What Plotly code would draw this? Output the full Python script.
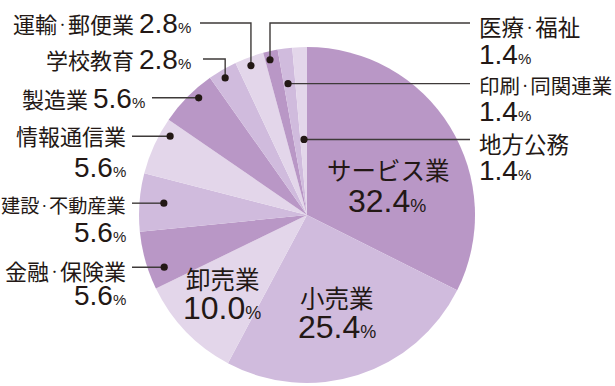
import math
import plotly.graph_objects as go

# ---------------- data ----------------
categories = ["サービス業", "小売業", "卸売業", "金融・保険業", "建設・不動産業",
              "情報通信業", "製造業", "学校教育", "運輸・郵便業", "医療・福祉",
              "印刷・同関連業", "地方公務"]
values = [32.4, 25.4, 10.0, 5.6, 5.6, 5.6, 5.6, 2.8, 2.8, 1.4, 1.4, 1.4]

# ---------------- layout / style ----------------
W, H = 615, 386
CX, CY, R = 307, 215, 168
SHADES = ["#b997c6", "#d0bbdd", "#e3d6ea"]
TEXT = "#231815"
LINE = "#3e3a39"
JP = "Noto Sans CJK JP"
NUM = "Liberation Sans"

def px(x):
    return x / W

def py(y):
    return 1 - y / H

def val_html(v, big, small):
    return (f'<span style="font-family:{NUM};font-size:{big}px">{v:.1f}</span>'
            f'<span style="font-family:{NUM};font-size:{small}px">%</span>')

def name_html(n, size):
    half = size / 2
    shift = round(size * 0.19, 1)
    parts = n.split("・")
    dot = (f'<span style="font-family:{JP};font-size:{half}px;'
           f'baseline-shift:{shift}px">・</span>')
    inner = dot.join(f'<span style="font-family:{JP};font-size:{size}px">{p}</span>'
                     for p in parts)
    return inner

colors = [SHADES[i % 3] for i in range(len(values))]

fig = go.Figure(go.Pie(
    values=values, labels=categories, sort=False, direction="clockwise",
    rotation=0, textinfo="none", hoverinfo="label+percent", showlegend=False,
    marker=dict(colors=colors, line=dict(width=0)),
    domain=dict(x=[px(CX - R), px(CX + R)], y=[py(CY + R), py(CY - R)]),
))

total = sum(values)
cum = {}
acc = 0
for c, v in zip(categories, values):
    cum[c] = (acc, v)
    acc += v

def dot_pos(cat, t, rf):
    start, v = cum[cat]
    theta = math.radians(360 * (start + t * v) / total)
    return CX + rf * R * math.sin(theta), CY - rf * R * math.cos(theta)

# leader settings (position inside slice t, radius fraction rf)
outer = {
    "運輸・郵便業": dict(t=0.46, rf=0.95, kind="elbow", ly=23, lx=200, tx=193, side="right", inline=True, ny=23, fs=22),
    "学校教育":     dict(t=0.44, rf=0.95, kind="elbow", ly=59, lx=203, tx=193, side="right", inline=True, ny=59, fs=22),
    "製造業":       dict(t=0.63, rf=0.95, kind="straight", lx=152, tx=147, side="right", inline=True, ny=98, fs=22),
    "情報通信業":   dict(t=0.77, rf=0.94, kind="straight", lx=132, tx=128, side="right", inline=False, ny=135, vy=167, fs=22),
    "建設・不動産業": dict(t=0.52, rf=0.855, kind="straight", lx=132, tx=128, side="right", inline=False, ny=205, vy=232, fs=19.2),
    "金融・保険業": dict(t=0.29, rf=0.905, kind="straight", lx=132, tx=128, side="right", inline=False, ny=270, vy=295, fs=22),
    "医療・福祉":   dict(t=0.34, rf=0.95, kind="elbow", ly=23, lx=470, tx=477, side="left", inline=False, ny=26, vy=54, fs=22.5),
    "印刷・同関連業": dict(t=0.37, rf=0.79, kind="straight", lx=470, tx=477, side="left", inline=False, ny=85, vy=112, fs=20.5),
    "地方公務":     dict(t=0.55, rf=0.45, kind="straight", lx=470, tx=477, side="left", inline=False, ny=143, vy=170, fs=22.5),
}

inner = {
    "サービス業": dict(nx=388, ny=169, vx=387, vy=201),
    "小売業":     dict(nx=337, ny=297, vx=337, vy=327),
    "卸売業":     dict(nx=223, ny=278, vx=222, vy=308),
}

shapes = []
annotations = []
vmap = dict(zip(categories, values))

for cat, o in outer.items():
    dx, dy = dot_pos(cat, o["t"], o["rf"])
    if o["kind"] == "elbow":
        path = f"M {px(o['lx'])} {py(o['ly'])} L {px(dx)} {py(o['ly'])} L {px(dx)} {py(dy)}"
    else:
        path = f"M {px(o['lx'])} {py(dy)} L {px(dx)} {py(dy)}"
    shapes.append(dict(type="path", xref="paper", yref="paper", path=path,
                       line=dict(color=LINE, width=1.4)))
    shapes.append(dict(type="circle", xref="paper", yref="paper",
                       xsizemode="pixel", ysizemode="pixel",
                       xanchor=px(dx), yanchor=py(dy), x0=-3.6, x1=3.6, y0=-3.6, y1=3.6,
                       fillcolor=TEXT, line=dict(width=0)))
    if o["inline"]:
        annotations.append(dict(x=px(o["tx"]), y=py(o["ny"]), xref="paper", yref="paper",
                                xanchor=o["side"], yanchor="middle", showarrow=False,
                                text=name_html(cat, o["fs"]) + " " + val_html(vmap[cat], 28, 15),
                                font=dict(color=TEXT, family=JP, size=22)))
    else:
        annotations.append(dict(x=px(o["tx"]), y=py(o["ny"]), xref="paper", yref="paper",
                                xanchor=o["side"], yanchor="middle", showarrow=False,
                                text=name_html(cat, o["fs"]),
                                font=dict(color=TEXT, family=JP, size=22)))
        annotations.append(dict(x=px(o["tx"]), y=py(o["vy"]), xref="paper", yref="paper",
                                xanchor=o["side"], yanchor="middle", showarrow=False,
                                text=val_html(vmap[cat], 28, 15),
                                font=dict(color=TEXT, family=NUM, size=28)))

for cat, o in inner.items():
    annotations.append(dict(x=px(o["nx"]), y=py(o["ny"]), xref="paper", yref="paper",
                            xanchor="center", yanchor="middle", showarrow=False,
                            text=name_html(cat, 24.5),
                            font=dict(color=TEXT, family=JP, size=24)))
    annotations.append(dict(x=px(o["vx"]), y=py(o["vy"]), xref="paper", yref="paper",
                            xanchor="center", yanchor="middle", showarrow=False,
                            text=val_html(vmap[cat], 32, 18),
                            font=dict(color=TEXT, family=NUM, size=32)))

fig.update_layout(
    width=W, height=H, margin=dict(l=0, r=0, t=0, b=0),
    paper_bgcolor="white", plot_bgcolor="white",
    shapes=shapes, annotations=annotations,
)

fig.write_html("out.html", config={"displayModeBar": False},
               post_script="document.body.style.margin='0';document.body.style.overflow='hidden';")
